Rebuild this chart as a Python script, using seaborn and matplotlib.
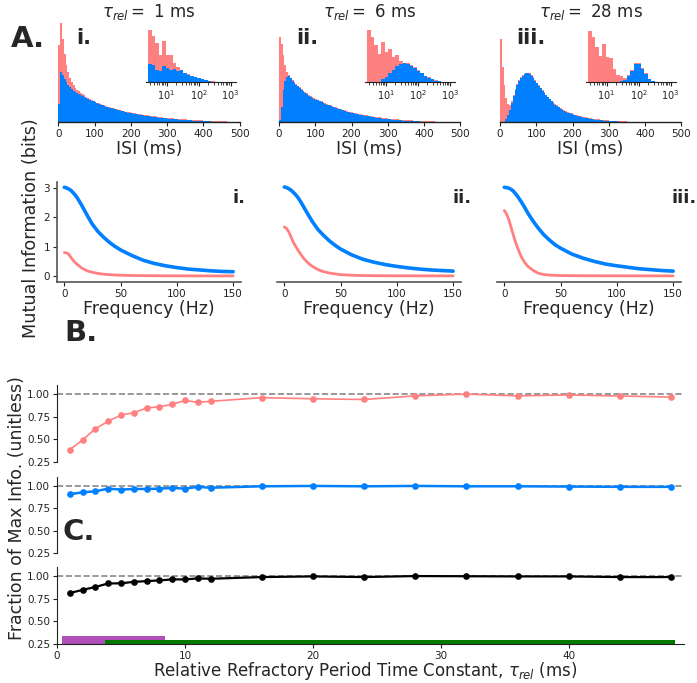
import numpy as np
import pandas as pd
import matplotlib
matplotlib.use("Agg")
import matplotlib.pyplot as plt
import seaborn as sns

sns.set_style("ticks")
plt.rcParams['font.family'] = ['DejaVu Sans']

PINK = '#FF8080'
BLUE = '#0080FF'

# ---------------- data ----------------
taus_titles = [1, 6, 28]
panel_labels = ['i.', 'ii.', 'iii.']

isi_binwidth = 5  # ms
hist_pink_1 = [230, 298, 250, 205, 172, 150, 133, 120, 110, 103,
               97, 92, 87, 83, 80, 76, 72, 69, 66, 63,
               61, 58, 56, 54, 52, 50, 48, 46, 45, 43,
               41, 40, 38, 37, 35, 34, 33, 31, 30, 29,
               28, 27, 26, 25, 24, 23, 22, 21, 20, 20,
               19, 18, 17, 17, 16, 15, 15, 14, 13, 13,
               12, 12, 11, 11, 10, 10, 9, 9, 8, 8,
               8, 7, 7, 7, 6, 6, 6, 5, 5, 5,
               4, 4, 4, 4, 3, 3, 3, 3, 2, 2,
               2, 2, 2, 1, 1, 1, 1, 1, 1, 1]
hist_blue_1 = [55, 150, 140, 129, 119, 111, 104, 98, 94, 90,
               87, 84, 81, 78, 75, 72, 70, 67, 64, 62,
               59, 56, 54, 52, 50, 48, 46, 44, 43, 41,
               39, 38, 36, 35, 33, 32, 31, 29, 28, 27,
               26, 25, 24, 23, 22, 21, 20, 19, 18, 18,
               17, 16, 15, 15, 14, 13, 13, 12, 11, 11,
               10, 10, 9, 9, 8, 8, 7, 7, 6, 6,
               6, 5, 5, 5, 4, 4, 4, 3, 3, 3,
               2, 2, 2, 2, 1, 1, 1, 1, 1, 1,
               1, 0, 0, 0, 0, 0, 0, 0, 0, 0]
hist_pink_2 = [255, 235, 200, 170, 150, 142, 133, 125, 120, 114,
               109, 104, 98, 94, 90, 86, 81, 78, 75, 72,
               69, 67, 64, 62, 59, 56, 54, 52, 50, 48,
               46, 44, 42, 40, 38, 37, 35, 33, 31, 30,
               29, 28, 26, 25, 24, 23, 22, 21, 20, 19,
               18, 17, 16, 15, 15, 14, 13, 12, 12, 11,
               10, 10, 9, 9, 8, 8, 7, 7, 6, 6,
               6, 5, 5, 5, 4, 4, 4, 3, 3, 3,
               3, 2, 2, 2, 2, 2, 1, 1, 1, 1,
               1, 1, 1, 1, 0, 0, 0, 0, 0, 0]
hist_blue_2 = [5, 45, 95, 122, 135, 137, 131, 123, 118, 112,
               107, 102, 96, 92, 88, 84, 79, 76, 73, 70,
               67, 65, 62, 60, 57, 54, 52, 50, 48, 46,
               44, 42, 40, 38, 36, 35, 33, 31, 29, 28,
               27, 26, 24, 23, 22, 21, 20, 19, 18, 17,
               16, 15, 14, 13, 13, 12, 11, 10, 10, 9,
               8, 8, 7, 7, 6, 6, 5, 5, 4, 4,
               4, 3, 3, 3, 2, 2, 2, 2, 1, 1,
               1, 1, 1, 1, 1, 1, 0, 0, 0, 0,
               0, 0, 0, 0, 0, 0, 0, 0, 0, 0]
hist_pink_3 = [250, 165, 110, 72, 55, 50, 62, 80, 100, 114,
               126, 135, 141, 145, 148, 148, 146, 141, 134, 126,
               118, 110, 103, 96, 89, 82, 76, 70, 64, 59,
               54, 50, 46, 42, 39, 36, 33, 30, 28, 26,
               24, 22, 20, 19, 17, 16, 15, 14, 13, 12,
               11, 10, 9, 8, 8, 7, 6, 6, 5, 5,
               4, 4, 3, 3, 3, 2, 2, 2, 2, 2,
               1, 1, 1, 1, 1, 1, 0, 0, 0, 0,
               0, 0, 0, 0, 0, 0, 0, 0, 0, 0,
               0, 0, 0, 0, 0, 0, 0, 0, 0, 0]
hist_blue_3 = [0, 0, 1, 8, 20, 36, 58, 78, 97, 111,
               124, 133, 139, 143, 146, 146, 144, 139, 132, 124,
               116, 108, 101, 94, 87, 80, 74, 68, 62, 57,
               52, 48, 44, 40, 37, 34, 31, 28, 26, 24,
               22, 20, 18, 17, 15, 14, 13, 12, 11, 10,
               9, 8, 7, 7, 6, 5, 5, 4, 4, 3,
               3, 2, 2, 2, 2, 1, 1, 1, 1, 1,
               0, 0, 0, 0, 0, 0, 0, 0, 0, 0,
               0, 0, 0, 0, 0, 0, 0, 0, 0, 0,
               0, 0, 0, 0, 0, 0, 0, 0, 0, 0]

# inset (log-binned) histograms
inset_log_start = 0.42   # log10 of first bin edge
inset_log_step = 0.11    # decades per bin
inset_pink_1 = [52, 46, 39, 27, 41, 27, 27, 19, 15, 12.5, 9.5, 8, 6.5, 5, 4, 3, 2, 1.2, 0.6, 0.3]
inset_blue_1 = [17.7, 17, 12, 11, 16.3, 13.7, 12, 13, 11.3, 12, 9.3, 7.5, 6.2, 4.7, 3.7, 2.7, 1.8, 1, 0.5, 0.2]
inset_pink_2 = [51.7, 45, 36.7, 28, 40, 30, 33, 25, 27, 20.7, 19, 18.7, 17, 15, 12, 9.5, 6.5, 4.7, 3, 1.8, 1, 0.4]
inset_blue_2 = [0, 0, 0, 0.5, 2.7, 4.7, 8.7, 12, 16.3, 18, 18.7, 18, 16.3, 14.3, 11, 8.7, 6, 4.3, 2.7, 1.5, 0.8, 0.3]
inset_pink_3 = [51, 45, 35.5, 26, 38.5, 25.5, 24, 13.5, 7, 5.7, 4.5, 7, 12, 18.8, 19.3, 14.5, 9, 3.5, 1.3, 0.3]
inset_blue_3 = [0, 0, 0, 0, 0, 0, 0, 0, 0.2, 0.8, 2.5, 6, 11, 17.7, 18.5, 13.5, 8.5, 3, 1, 0.2]

# mutual information vs frequency
freq = [0, 2, 4, 6, 8, 10, 12, 15, 18, 21, 25, 30, 35, 40, 45, 50, 60, 70, 80, 90, 100, 110, 120, 130, 140, 150]
mi_blue_1 = [3.02, 3.00, 2.96, 2.91, 2.83, 2.74, 2.63, 2.44, 2.23, 2.02, 1.76, 1.51, 1.32, 1.15, 1.01, 0.89,
             0.70, 0.54, 0.43, 0.35, 0.29, 0.24, 0.21, 0.18, 0.16, 0.15]
mi_pink_1 = [0.80, 0.79, 0.74, 0.63, 0.53, 0.45, 0.38, 0.29, 0.22, 0.17, 0.13, 0.09, 0.065, 0.05, 0.038, 0.03,
             0.022, 0.017, 0.013, 0.010, 0.009, 0.008, 0.007, 0.007, 0.006, 0.006]
mi_blue_2 = [3.03, 3.01, 2.97, 2.92, 2.85, 2.77, 2.68, 2.50, 2.30, 2.10, 1.85, 1.58, 1.38, 1.20, 1.05, 0.92,
             0.72, 0.57, 0.47, 0.39, 0.33, 0.28, 0.24, 0.21, 0.19, 0.17]
mi_pink_2 = [1.67, 1.62, 1.50, 1.33, 1.15, 1.02, 0.89, 0.72, 0.57, 0.45, 0.33, 0.22, 0.15, 0.105, 0.075, 0.05,
             0.03, 0.02, 0.015, 0.012, 0.01, 0.01, 0.008, 0.008, 0.007, 0.007]
mi_blue_3 = [3.02, 3.01, 2.99, 2.95, 2.89, 2.80, 2.70, 2.53, 2.34, 2.14, 1.90, 1.64, 1.41, 1.23, 1.07, 0.95,
             0.75, 0.61, 0.50, 0.41, 0.35, 0.30, 0.25, 0.22, 0.19, 0.17]
mi_pink_3 = [2.23, 2.11, 1.92, 1.66, 1.40, 1.15, 0.94, 0.66, 0.47, 0.33, 0.21, 0.10, 0.055, 0.035, 0.025, 0.02,
             0.015, 0.012, 0.011, 0.010, 0.010, 0.009, 0.009, 0.008, 0.008, 0.008]

# fraction of max info vs tau_rel
tau_rel = [1, 2, 3, 4, 5, 6, 7, 8, 9, 10, 11, 12, 16, 20, 24, 28, 32, 36, 40, 44, 48]
frac_pink = [0.386, 0.493, 0.617, 0.70, 0.768, 0.794, 0.846, 0.86, 0.886, 0.93, 0.908, 0.92,
             0.96, 0.948, 0.94, 0.98, 1.0, 0.98, 0.99, 0.978, 0.967]
frac_blue = [0.907, 0.929, 0.94, 0.97, 0.959, 0.966, 0.966, 0.97, 0.978, 0.97, 0.989, 0.98,
             0.996, 1.0, 0.996, 1.0, 0.996, 0.996, 0.993, 0.99, 0.99]
frac_black = [0.813, 0.847, 0.880, 0.918, 0.92, 0.936, 0.944, 0.952, 0.963, 0.963, 0.974, 0.97,
              0.989, 0.996, 0.989, 1.0, 0.998, 0.996, 0.996, 0.989, 0.989]
purple_range = [0.42, 8.46]
purple_top = 0.342
green_range = [3.78, 48.3]
green_top = 0.294

# ---------------- figure ----------------
W, H = 697, 683
fig = plt.figure(figsize=(W / 100, H / 100), dpi=100)


def px_axes(left, top, right, bottom):
    return fig.add_axes([left / W, 1 - bottom / H, (right - left) / W, (bottom - top) / H])


def ftext(x, y, s, **kw):
    fig.text(x / W, 1 - y / H, s, **kw)


hist_pinks = [hist_pink_1, hist_pink_2, hist_pink_3]
hist_blues = [hist_blue_1, hist_blue_2, hist_blue_3]
inset_pinks = [inset_pink_1, inset_pink_2, inset_pink_3]
inset_blues = [inset_blue_1, inset_blue_2, inset_blue_3]
mi_blues = [mi_blue_1, mi_blue_2, mi_blue_3]
mi_pinks = [mi_pink_1, mi_pink_2, mi_pink_3]

hist_lefts = [58.3, 279.0, 500.0]
inset_lefts = [146.0, 365.3, 586.0]
mi_lefts = [57.0, 277.0, 497.0]
hist_label_x = [84, 307, 531]
mi_label_right = [245, 472, 697]


def draw_hist(ax, heights, color, edges):
    edges = np.asarray(edges, dtype=float)
    centers = 0.5 * (edges[:-1] + edges[1:])
    df = pd.DataFrame({'isi': centers, 'w': np.asarray(heights, dtype=float)})
    sns.histplot(data=df, x='isi', weights='w', bins=list(edges), element='step', fill=True,
                 color=color, alpha=1, linewidth=0, ax=ax)


for i in range(3):
    # main ISI histogram
    ax = px_axes(hist_lefts[i], 22, hist_lefts[i] + 181.3, 122)
    for heights, color in [(hist_pinks[i], PINK), (hist_blues[i], BLUE)]:
        edges = np.arange(len(heights) + 1) * isi_binwidth
        draw_hist(ax, heights, color, edges)
    ax.set_xlim(0, 500)
    ax.set_ylim(0, 300)
    sns.despine(ax=ax, left=True)
    ax.set_yticks([])
    ax.set_ylabel('')
    ax.set_xticks([0, 100, 200, 300, 400, 500])
    ax.tick_params(axis='x', labelsize=7.5, length=3, width=0.8, pad=2, colors='#222222')
    ax.spines['bottom'].set_color('#222222')
    ax.spines['bottom'].set_linewidth(1.0)
    ax.set_xlabel('ISI (ms)', fontsize=12.5, labelpad=1)
    ax.set_title(r'$\tau_{rel} =$ ' + f'{taus_titles[i]} ms', fontsize=12, pad=3)
    ftext(hist_label_x[i], 38, panel_labels[i], fontsize=15, fontweight='bold', ha='center', va='center')

    # inset (log bins)
    axi = px_axes(inset_lefts[i], 30, inset_lefts[i] + 90, 82)
    for heights, color in [(inset_pinks[i], PINK), (inset_blues[i], BLUE)]:
        edges = 10 ** (inset_log_start + inset_log_step * np.arange(len(heights) + 1))
        draw_hist(axi, heights, color, edges)
    axi.set_xscale('log')
    axi.set_xlim(10 ** (inset_log_start - 2 / 32), 10 ** (inset_log_start + 88 / 32))
    axi.set_ylim(0, 52)
    axi.patch.set_alpha(0)
    sns.despine(ax=axi, left=True)
    axi.set_yticks([])
    axi.set_ylabel('')
    axi.set_xlabel('')
    axi.set_xticks([10, 100, 1000])
    axi.tick_params(axis='x', which='major', labelsize=7, length=3, width=0.8, pad=1.5, colors='#222222')
    axi.tick_params(axis='x', which='minor', length=2, width=0.6, colors='#222222')
    axi.spines['bottom'].set_color('#222222')

    # mutual information
    axm = px_axes(mi_lefts[i], 182, mi_lefts[i] + 184, 282)
    sns.lineplot(x=freq, y=mi_blues[i], color=BLUE, linewidth=2.6, ax=axm)
    sns.lineplot(x=freq, y=mi_pinks[i], color=PINK, linewidth=2.0, ax=axm)
    axm.set_xlim(-6.5, 157)
    axm.set_ylim(-0.2, 3.2)
    axm.set_xticks([0, 50, 100, 150])
    axm.tick_params(labelsize=7.5, length=3, width=0.8, pad=2, colors='#222222')
    for sp in axm.spines.values():
        sp.set_color('#555555')
        sp.set_linewidth(1.2)
    if i == 0:
        sns.despine(ax=axm)
        axm.set_yticks([0, 1, 2, 3])
    else:
        sns.despine(ax=axm, left=True)
        axm.set_yticks([])
    axm.set_ylabel('')
    axm.set_xlabel('Frequency (Hz)', fontsize=12.5, labelpad=1)
    ftext(mi_label_right[i], 198, panel_labels[i], fontsize=13, fontweight='bold', ha='right', va='center')

ftext(31, 228, 'Mutual Information (bits)', fontsize=12.7, rotation=90, ha='center', va='center')

# ---------------- C panels ----------------
c_rows = [(385, 462, frac_pink, PINK, 1.2), (477, 553, frac_blue, BLUE, 1.8), (567, 644, frac_black, 'black', 1.6)]
for k, (top, bot, vals, color, lw) in enumerate(c_rows):
    axc = px_axes(57, top, 684, bot)
    axc.axhline(1.0, color='#888888', linestyle='--', linewidth=1.2, zorder=1)
    sns.lineplot(x=tau_rel, y=vals, color=color, linewidth=lw, marker='o', markersize=4.8,
                 markeredgewidth=0, ax=axc, zorder=3)
    axc.set_xlim(0, 49)
    axc.set_ylim(0.25, 1.1)
    axc.set_yticks([0.25, 0.5, 0.75, 1.0])
    axc.set_yticklabels(['0.25', '0.50', '0.75', '1.00'])
    axc.tick_params(labelsize=7.5, length=3, width=0.8, pad=2, colors='#222222')
    axc.set_ylabel('')
    axc.set_xlabel('')
    if k < 2:
        sns.despine(ax=axc, bottom=True)
        axc.set_xticks([])
    else:
        sns.despine(ax=axc)
        axc.set_xticks([0, 10, 20, 30, 40])
        axc.fill_between(purple_range, 0.25, purple_top, color='#B050B8', linewidth=0, zorder=2)
        axc.fill_between(green_range, 0.25, green_top, color='#007A00', linewidth=0, zorder=2)
    for sp in axc.spines.values():
        sp.set_color('#222222')

ftext(365, 676, r'Relative Refractory Period Time Constant, $\tau_{rel}$ (ms)', fontsize=12,
      ha='center', va='baseline')
ftext(17, 508, 'Fraction of Max Info. (unitless)', fontsize=12.5, rotation=90, ha='center', va='center')

ftext(28, 39, 'A.', fontsize=21, fontweight='bold', ha='center', va='center')
ftext(81, 333, 'B.', fontsize=21, fontweight='bold', ha='center', va='center')
ftext(79, 532, 'C.', fontsize=21, fontweight='bold', ha='center', va='center')

fig.savefig('out.png', dpi=100)
